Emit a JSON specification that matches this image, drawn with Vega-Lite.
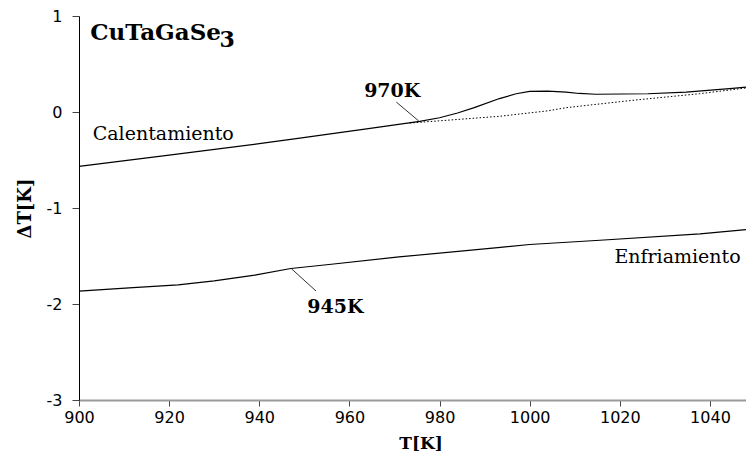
{
  "$schema": "https://vega.github.io/schema/vega-lite/v6.json",
  "width": 667,
  "height": 384,
  "autosize": {"type": "none"},
  "padding": {"left": 79, "top": 16, "right": 0, "bottom": 62},
  "background": "white",
  "config": {
    "view": {"stroke": null},
    "axis": {
      "grid": false,
      "labelFont": "DejaVu Sans",
      "labelFontSize": 16,
      "labelColor": "black",
      "labelFlush": false,
      "labelExpr": "datum.value + ''",
      "titleFont": "DejaVu Serif",
      "titleFontWeight": "bold",
      "titleColor": "black"
    },
    "axisX": {
      "domainColor": "#9a9a9a",
      "domainWidth": 2,
      "tickColor": "#444444",
      "tickSize": 6,
      "labelPadding": 3,
      "titleFontSize": 17,
      "titleX": 341.5,
      "titleY": 48,
      "titleBaseline": "alphabetic",
      "titleAlign": "center"
    },
    "axisY": {
      "domainColor": "black",
      "domainWidth": 1,
      "tickColor": "#444444",
      "tickSize": 7,
      "labelPadding": 10,
      "titleFontSize": 18,
      "titleX": -54,
      "titleY": 192,
      "titleBaseline": "middle",
      "titleAlign": "center",
      "titleAngle": 270
    }
  },
  "datasets": {
    "heat": [
      {"T": 900, "dT": -0.566},
      {"T": 920, "dT": -0.45},
      {"T": 940, "dT": -0.33},
      {"T": 949, "dT": -0.272},
      {"T": 964.6, "dT": -0.17},
      {"T": 975.6, "dT": -0.097},
      {"T": 980, "dT": -0.06},
      {"T": 984, "dT": -0.01},
      {"T": 987.7, "dT": 0.045},
      {"T": 993.3, "dT": 0.14},
      {"T": 997, "dT": 0.19},
      {"T": 1000, "dT": 0.214},
      {"T": 1004, "dT": 0.217},
      {"T": 1008.1, "dT": 0.208},
      {"T": 1011, "dT": 0.193},
      {"T": 1014.7, "dT": 0.185},
      {"T": 1026.2, "dT": 0.19},
      {"T": 1034.7, "dT": 0.208},
      {"T": 1045, "dT": 0.247},
      {"T": 1048, "dT": 0.26}
    ],
    "base": [
      {"T": 973.4, "dT": -0.115},
      {"T": 993.3, "dT": -0.045},
      {"T": 1004, "dT": 0.012},
      {"T": 1008.1, "dT": 0.045},
      {"T": 1022.9, "dT": 0.122},
      {"T": 1037.6, "dT": 0.19},
      {"T": 1048, "dT": 0.25}
    ],
    "cool": [
      {"T": 900, "dT": -1.865},
      {"T": 912, "dT": -1.83},
      {"T": 922, "dT": -1.8},
      {"T": 930, "dT": -1.76},
      {"T": 939, "dT": -1.7},
      {"T": 947, "dT": -1.63},
      {"T": 956, "dT": -1.586},
      {"T": 971, "dT": -1.51},
      {"T": 993.5, "dT": -1.41},
      {"T": 1000, "dT": -1.38},
      {"T": 1015.6, "dT": -1.336},
      {"T": 1037.8, "dT": -1.27},
      {"T": 1048, "dT": -1.225}
    ],
    "pointers": [
      {"T": 970.4, "dT": 0.104, "T2": 975.4, "dT2": -0.094},
      {"T": 947.1, "dT": -1.631, "T2": 952.6, "dT2": -1.865}
    ],
    "compound": [{"T": 902.5, "dT": 0.747, "label": "CuTaGaSe"}],
    "subscript": [{"T": 931.2, "dT": 0.68, "label": "3"}],
    "temps": [
      {"T": 969.5, "dT": 0.156, "label": "970K"},
      {"T": 956.9, "dT": -2.09, "label": "945K"}
    ],
    "names": [
      {"T": 903.05, "dT": -0.295, "label": "Calentamiento"},
      {"T": 1018.8, "dT": -1.573, "label": "Enfriamiento"}
    ]
  },
  "layer": [
    {
      "mark": {"type": "rule", "color": "black", "strokeWidth": 1},
      "encoding": {
        "y": {"datum": 1, "type": "quantitative", "scale": {"domain": [-3, 1], "nice": false, "zero": false}, "title": "ΔT[K]", "axis": {"values": [-3, -2, -1, 0, 1]}}
      }
    },
    {
      "data": {"name": "heat"},
      "mark": {"type": "line", "color": "black", "strokeWidth": 1.2},
      "encoding": {
        "x": {"field": "T", "type": "quantitative", "scale": {"domain": [900, 1048], "nice": false, "zero": false}, "title": "T[K]", "axis": {"values": [900, 920, 940, 960, 980, 1000, 1020, 1040]}},
        "y": {"field": "dT", "type": "quantitative", "scale": {"domain": [-3, 1], "nice": false, "zero": false}, "title": "ΔT[K]", "axis": {"values": [-3, -2, -1, 0, 1]}}
      }
    },
    {
      "data": {"name": "base"},
      "mark": {"type": "line", "color": "black", "strokeWidth": 1, "strokeDash": [1.5, 2]},
      "encoding": {
        "x": {"field": "T", "type": "quantitative"},
        "y": {"field": "dT", "type": "quantitative"}
      }
    },
    {
      "data": {"name": "cool"},
      "mark": {"type": "line", "color": "black", "strokeWidth": 1.2},
      "encoding": {
        "x": {"field": "T", "type": "quantitative"},
        "y": {"field": "dT", "type": "quantitative"}
      }
    },
    {
      "data": {"name": "pointers"},
      "mark": {"type": "rule", "color": "#333333", "strokeWidth": 1},
      "encoding": {
        "x": {"field": "T", "type": "quantitative"},
        "y": {"field": "dT", "type": "quantitative"},
        "x2": {"field": "T2"},
        "y2": {"field": "dT2"}
      }
    },
    {
      "data": {"name": "compound"},
      "mark": {"type": "text", "font": "DejaVu Serif", "fontWeight": "bold", "fontSize": 23, "align": "left", "baseline": "alphabetic", "color": "black"},
      "encoding": {
        "x": {"field": "T", "type": "quantitative"},
        "y": {"field": "dT", "type": "quantitative"},
        "text": {"field": "label"}
      }
    },
    {
      "data": {"name": "subscript"},
      "mark": {"type": "text", "font": "DejaVu Serif", "fontWeight": "bold", "fontSize": 22, "align": "left", "baseline": "alphabetic", "color": "black"},
      "encoding": {
        "x": {"field": "T", "type": "quantitative"},
        "y": {"field": "dT", "type": "quantitative"},
        "text": {"field": "label"}
      }
    },
    {
      "data": {"name": "temps"},
      "mark": {"type": "text", "font": "DejaVu Serif", "fontWeight": "bold", "fontSize": 19, "align": "center", "baseline": "alphabetic", "color": "black"},
      "encoding": {
        "x": {"field": "T", "type": "quantitative"},
        "y": {"field": "dT", "type": "quantitative"},
        "text": {"field": "label"}
      }
    },
    {
      "data": {"name": "names"},
      "mark": {"type": "text", "font": "DejaVu Serif", "fontSize": 19, "align": "left", "baseline": "alphabetic", "color": "black"},
      "encoding": {
        "x": {"field": "T", "type": "quantitative"},
        "y": {"field": "dT", "type": "quantitative"},
        "text": {"field": "label"}
      }
    }
  ]
}
